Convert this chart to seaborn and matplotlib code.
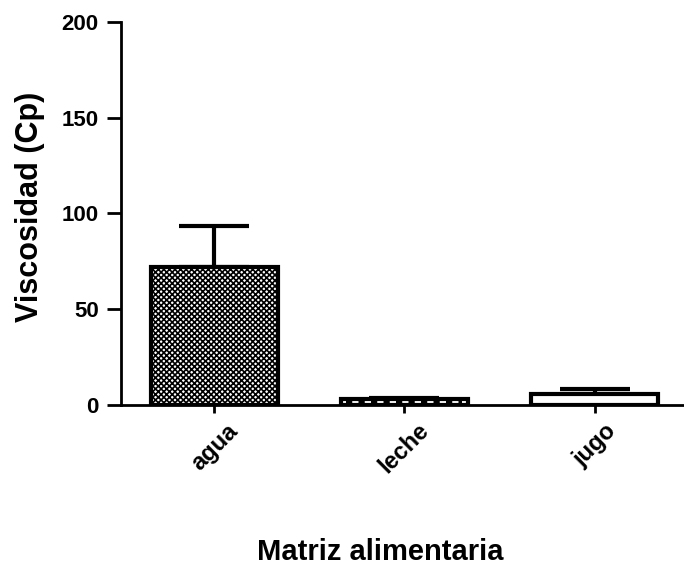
import matplotlib
matplotlib.use("Agg")
import matplotlib.pyplot as plt
import seaborn as sns
import pandas as pd

# data
matrices = ["agua", "leche", "jugo"]
viscosity = [72, 3, 6]
errors = [21.5, 0.5, 2.5]

sns.set_style("white")
plt.rcParams["font.family"] = ["Liberation Sans", "DejaVu Sans"]
plt.rcParams["hatch.linewidth"] = 1.2
for k in ["text.color", "axes.labelcolor", "xtick.color", "ytick.color"]:
    plt.rcParams[k] = "black"

df = pd.DataFrame({"matriz": matrices, "visc": viscosity})

fig = plt.figure(figsize=(6.84, 5.73), dpi=100)
ax = fig.add_axes([0.177, 0.293, 0.823, 0.669])

sns.barplot(data=df, x="matriz", y="visc", color="white", width=0.67,
            edgecolor="black", linewidth=3, errorbar=None, ax=ax, zorder=3)

# fill styles per bar
hatches = ["xxxxxx", "", ""]
for patch, h in zip(ax.patches, hatches):
    patch.set_hatch(h)
    patch.set_facecolor("white")

# dashed line inside the leche bar
p = ax.patches[1]
ax.plot([p.get_x() + 0.03, p.get_x() + p.get_width() - 0.03],
        [viscosity[1] / 2, viscosity[1] / 2], color="black", lw=1.5,
        ls=(0, (3, 3)), zorder=4)

ax.errorbar(range(len(matrices)), viscosity, yerr=[[0] * 3, errors], fmt="none",
            ecolor="black", elinewidth=3, capsize=25, capthick=3, zorder=2)

ax.set_ylim(0, 200)
ax.set_xlim(-0.49, 2.47)
ax.set_yticks([0, 50, 100, 150, 200])
ax.set_ylabel("Viscosidad (Cp)", fontsize=22, fontweight="bold")
ax.set_xlabel("Matriz alimentaria", fontsize=21, fontweight="bold")
ax.yaxis.set_label_coords(-0.162, 0.517)
ax.xaxis.set_label_coords(0.46, -0.384)
ax.xaxis.label.set_va("center")
ax.yaxis.label.set_va("center")

for s in ["top", "right"]:
    ax.spines[s].set_visible(False)
for s in ["left", "bottom"]:
    ax.spines[s].set_linewidth(2)
    ax.spines[s].set_color("black")

ax.tick_params(axis="y", direction="out", length=10, width=2, left=True,
               labelsize=16, pad=6)
ax.tick_params(axis="x", direction="out", length=6, width=2, bottom=True,
               labelsize=17, pad=4)
for lab in ax.get_yticklabels():
    lab.set_fontweight("bold")
for lab in ax.get_xticklabels():
    lab.set_fontweight("bold")
    lab.set_rotation(45)
    lab.set_ha("center")

fig.savefig("out.png", dpi=100)
